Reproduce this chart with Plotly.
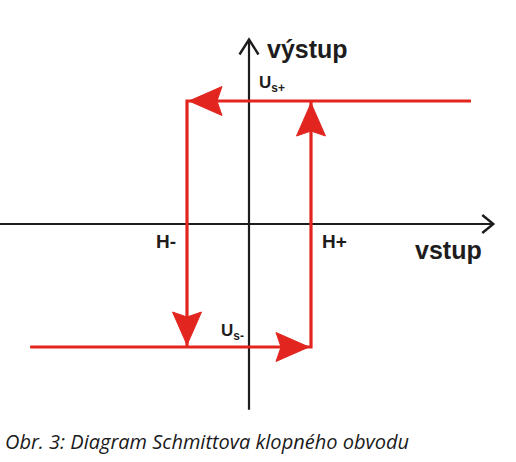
import plotly.graph_objects as go

# ---- data (diagram values, normalised units) ----
H_MINUS = -1.0          # lower switching threshold
H_PLUS = 1.0            # upper switching threshold
US_PLUS = 1.0           # high output level
US_MINUS = -1.0         # low output level
INPUT_LEFT = -3.53      # left end of the low-output branch
INPUT_RIGHT = 3.58      # right end of the high-output branch
AXIS_X = [-4.05, 3.94]  # extent of input axis
AXIS_Y = [-1.51, 1.50]  # extent of output axis

upper_x = [INPUT_RIGHT, H_MINUS, H_MINUS]
upper_y = [US_PLUS, US_PLUS, US_MINUS]
lower_x = [INPUT_LEFT, H_PLUS, H_PLUS]
lower_y = [US_MINUS, US_MINUS, US_PLUS]
arrow_tips = [(H_MINUS, US_PLUS, "left"), (H_MINUS, US_MINUS, "down"),
              (H_PLUS, US_MINUS, "right"), (H_PLUS, US_PLUS, "up")]
labels = {"out": "výstup", "in": "vstup", "hm": "H-", "hp": "H+"}
caption = "Obr. 3: Diagram Schmittova klopného obvodu"

# ---- geometry / style ----
W, H = 516, 462
OX, OY = 249, 224          # pixel of origin
SX, SY = 62.0, 123.0       # pixels per unit
RED = "#e2261f"
INK = "#1e1c1c"
FONT = "Liberation Sans, Arial, sans-serif"

xr = [-OX / SX, (W - OX) / SX]
yr = [(OY - H) / SY, OY / SY]

def px(dx, dy):
    return dx / SX, dy / SY

fig = go.Figure()

# axes
fig.add_trace(go.Scatter(x=AXIS_X, y=[0, 0], mode="lines",
                         line=dict(color=INK, width=2.2), hoverinfo="skip"))
fig.add_trace(go.Scatter(x=[0, 0], y=AXIS_Y, mode="lines",
                         line=dict(color=INK, width=2.2), hoverinfo="skip"))
# axis chevrons
ax, ay = px(11, 9)
fig.add_trace(go.Scatter(x=[AXIS_X[1] - ax, AXIS_X[1], AXIS_X[1] - ax],
                         y=[ay, 0, -ay], mode="lines",
                         line=dict(color=INK, width=2.4), hoverinfo="skip"))
bx, by = px(9.5, 15)
fig.add_trace(go.Scatter(x=[-bx, 0, bx],
                         y=[AXIS_Y[1] - by, AXIS_Y[1], AXIS_Y[1] - by], mode="lines",
                         line=dict(color=INK, width=2.4), hoverinfo="skip"))

# hysteresis branches
for xs, ys in ((upper_x, upper_y), (lower_x, lower_y)):
    fig.add_trace(go.Scatter(x=xs, y=ys, mode="lines",
                             line=dict(color=RED, width=3.2), hoverinfo="skip"))

# arrowheads (notched)
L, HW, NOTCH, BACK = 33, 14.5, 5, 2
dirs = {"left": (-1, 0), "right": (1, 0), "up": (0, 1), "down": (0, -1)}
for tx, ty, d in arrow_tips:
    ux, uy = dirs[d]
    nx, ny = -uy, ux
    def pt(a, b):
        ddx = a * ux + b * nx
        ddy = a * uy + b * ny
        return tx + ddx / SX, ty + ddy / SY
    pts = [pt(-BACK, 0), pt(-BACK - L, HW), pt(-BACK - L + NOTCH, 0),
           pt(-BACK - L, -HW), pt(-BACK, 0)]
    fig.add_trace(go.Scatter(x=[p[0] for p in pts], y=[p[1] for p in pts],
                             mode="lines", fill="toself", fillcolor=RED,
                             line=dict(color=RED, width=1), hoverinfo="skip"))

ann = []
bold = dict(family=FONT, color=INK)
ann.append(dict(x=0, y=AXIS_Y[1], text="<b>%s</b>" % labels["out"], xanchor="left",
                yanchor="middle", xshift=16, yshift=-9, showarrow=False,
                font=dict(size=25, **bold)))
ann.append(dict(x=AXIS_X[1], y=0, text="<b>%s</b>" % labels["in"], xanchor="right",
                yanchor="middle", xshift=-9, yshift=-26, showarrow=False,
                font=dict(size=25, **bold)))
ann.append(dict(x=H_MINUS, y=0, text="<b>%s</b>" % labels["hm"], xanchor="right",
                yanchor="middle", xshift=-9, yshift=-17, showarrow=False,
                font=dict(size=19, **bold)))
ann.append(dict(x=H_PLUS, y=0, text="<b>%s</b>" % labels["hp"], xanchor="left",
                yanchor="middle", xshift=9, yshift=-17, showarrow=False,
                font=dict(size=19, **bold)))
ann.append(dict(x=0, y=US_PLUS, text="<b>U<sub>s+</sub></b>", xanchor="left",
                yanchor="middle", xshift=8, yshift=17, showarrow=False,
                font=dict(size=17, **bold)))
ann.append(dict(x=0, y=US_MINUS, text="<b>U<sub>s-</sub></b>", xanchor="right",
                yanchor="middle", xshift=-3, yshift=15, showarrow=False,
                font=dict(size=17, **bold)))
ann.append(dict(xref="paper", yref="paper", x=0, y=(H - 441) / H, text="<i>%s</i>" % caption,
                xanchor="left", yanchor="middle", xshift=3, showarrow=False,
                font=dict(family="Open Sans, Noto Sans, sans-serif", size=20, color="#1a1a1a")))

fig.update_layout(width=W, height=H, autosize=False,
                  margin=dict(l=0, r=0, t=0, b=0, pad=0),
                  paper_bgcolor="white", plot_bgcolor="white", showlegend=False,
                  xaxis=dict(range=xr, visible=False, fixedrange=True),
                  yaxis=dict(range=yr, visible=False, fixedrange=True),
                  annotations=ann)

fig.write_html("out.html", config={"displayModeBar": False},
               post_script="document.body.style.margin='0';document.body.style.overflow='hidden';")
